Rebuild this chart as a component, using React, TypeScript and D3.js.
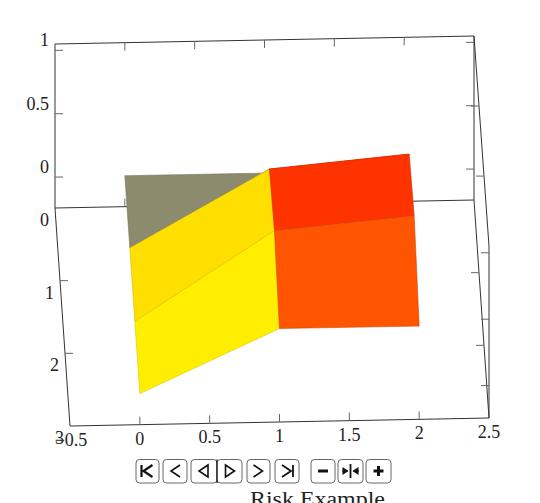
import React from "react";
import * as d3 from "d3";

// Data
const xGrid = [0, 1, 2];
const yGrid = [0, 1, 2, 3];
const zAt0 = [0, 0, -0.01, -0.01];
const zAt1 = [0, 0.592, 0.663, 0.46];
const zAt2 = [0, 0.687, 0.757, 0.458];
const zValues = [zAt0, zAt1, zAt2];
const patchColorsCol0 = ["#8d8b6d", "#ffdf00", "#ffee00"];
const patchColorsCol1 = ["#ff3300", "#ff3300", "#ff5500"];
const patchColors = [patchColorsCol0, patchColorsCol1];
const xTicks = [0, 0.5, 1, 1.5, 2];
const xLabels = [-0.5, 0, 0.5, 1, 1.5, 2, 2.5];
const yTicks = [1, 2];
const yLabels = [0, 1, 2, 3];
const zTicks = [0, 0.5, 1];
const title = "Risk Example";

const X0 = -0.5, X1 = 2.5, Y0 = 0, Y1 = 3, Z0 = -0.244, Z1 = 1.05;

const sx = d3.scaleLinear([X0, X1], [55, 474]);
const xTilt = d3.scaleLinear([X0, X1], [0, -8]);
const yShift = d3.scaleLinear([Y0, Y1], [0, 15]);
const yDrop = d3.scaleLinear([Y0, Y1], [208, 426]);
const zRise = d3.scaleLinear([Z0, Z1], [0, 164]);
const persp = d3.scaleLinear([Y0, Y1], [1, 1.048]);

type P = [number, number];
const project = (x: number, y: number, z: number): P => [
  sx(x) + yShift(y),
  yDrop(y) + xTilt(x) - zRise(z) * persp(y),
];
const line = d3.line<P>();

const FONT = "'Liberation Serif', serif";

// control bar
const buttonBoxes: [number, number][] = [
  [136, 159], [163, 187], [191, 217], [217, 242], [247, 270], [275, 299], [311, 335], [338, 363], [366, 391],
];
const buttonIcons = [
  "M-6,-6V6M5,-6L-4,0L5,6",
  "M5,-6L-4,0L5,6",
  "M4,-6L-5,0L4,6Z",
  "M-4,-6L5,0L-4,6Z",
  "M-5,-6L4,0L-5,6",
  "M-5,-6L4,0L-5,6M6,-6V6",
  "M-5,0H5",
  "M0,-7V7M-8,0H-3M3,0H8",
  "M-5,0H5M0,-5V5",
];
const iconWidths = [2.2, 1.6, 1.6, 1.6, 1.6, 1.8, 3, 1.8, 3];

export default function App() {
  const patches: { pts: P[]; color: string }[] = [];
  yGrid.slice(0, -1).forEach((_, j) => {
    xGrid.slice(0, -1).forEach((_, i) => {
      const pts: P[] = [
        project(xGrid[i], yGrid[j], zValues[i][j]),
        project(xGrid[i + 1], yGrid[j], zValues[i + 1][j]),
        project(xGrid[i + 1], yGrid[j + 1], zValues[i + 1][j + 1]),
        project(xGrid[i], yGrid[j + 1], zValues[i][j + 1]),
      ];
      patches.push({ pts, color: patchColors[i][j] });
    });
  });
  const edges: [P, P][] = [
    [project(X0, Y0, Z1), project(X1, Y0, Z1)],
    [project(X0, Y0, Z1), project(X0, Y0, Z0)],
    [project(X0, Y0, Z0), project(X1, Y0, Z0)],
    [project(X1, Y0, Z1), project(X1, Y0, Z0)],
    [project(X0, Y0, Z0), project(X0, Y1, Z0)],
    [project(X0, Y1, Z0), project(X1, Y1, Z0)],
    [project(X1, Y0, Z0), project(X1, Y1, Z0)],
    [project(X1, Y0, Z1), project(X1, Y1, Z1)],
    [project(X1, Y1, Z1), project(X1, Y1, Z0)],
  ];
  const ticksBehind: [P, P][] = [];
  const ticks: [P, P][] = [];
  const L = 8;
  const off = (p: P, dx: number, dy: number): [P, P] => [p, [p[0] + dx, p[1] + dy]];
  xTicks.forEach((v) => {
    ticks.push(off(project(v, Y0, Z1), 0, L));
    ticksBehind.push(off(project(v, Y0, Z0), 0, -L));
    ticks.push(off(project(v, Y1, Z0), 0, -L));
  });
  zTicks.forEach((v) => {
    ticks.push(off(project(X0, Y0, v), L, 0));
    ticks.push(off(project(X1, Y0, v), -L, 0));
    ticks.push(off(project(X1, Y1, v), -L, 0));
  });
  yTicks.forEach((v) => {
    ticks.push(off(project(X0, v, Z0), L, 0));
    ticks.push(off(project(X1, v, Z0), -L, 0));
    ticks.push(off(project(X1, v, Z1), -L, 0));
  });

  const textStyle = { fontFamily: FONT, fontSize: 18, fill: "#222" };
  return (
    <svg
      width={540}
      height={503}
      style={{ position: "absolute", left: 0, top: 0, background: "#fff" }}
    >
      <g fill="none" stroke="#333" strokeWidth={1}>
        {ticksBehind.map((t, i) => (
          <path key={i} d={line(t) as string} stroke="#777" />
        ))}
        {edges.map((e, i) => (
          <path key={i} d={line(e) as string} />
        ))}
        {ticks.map((t, i) => (
          <path key={i} d={line(t) as string} stroke="#666" />
        ))}
      </g>
      <g>
        {patches.map((p, i) => (
          <path
            key={i}
            d={(line(p.pts) as string) + "Z"}
            fill={p.color}
            stroke={d3.color(p.color)!.darker(0.5).formatHex()}
            strokeWidth={0.6}
            strokeLinejoin="round"
          />
        ))}
      </g>
      <g {...textStyle} textAnchor="middle">
        {xLabels.map((v) => {
          const [px, py] = project(v, Y1, Z0);
          return (
            <text key={v} x={v < 0 ? px + 1 : px} y={py + 20}>
              {v < 0 ? "\u2212" + Math.abs(v) : v}
            </text>
          );
        })}
        {yLabels.map((v) => {
          const [px, py] = project(X0, v, Z0);
          return (
            <text key={v} x={px - 10.5} y={py + 18}>
              {v}
            </text>
          );
        })}
      </g>
      <g {...textStyle} textAnchor="end">
        {zTicks.map((v) => {
          const [px, py] = project(X0, Y0, v);
          return (
            <text key={v} x={px - 6} y={py - 4}>
              {v}
            </text>
          );
        })}
      </g>
      <g>
        {buttonBoxes.map(([a, b], i) => {
          const cx = (a + b) / 2;
          return (
            <g key={i}>
              <rect x={a} y={459.5} width={b - a} height={23.5} rx={3.5} fill="#fff" stroke="#555" strokeWidth={0.9} />
              <path
                d={buttonIcons[i]}
                transform={`translate(${cx},471)`}
                fill="none"
                stroke="#111"
                strokeWidth={iconWidths[i]}
              />
              {i === 7 && (
                <path
                  d="M-8,-4L-2,0L-8,4ZM8,-4L2,0L8,4Z"
                  transform={`translate(${cx},471)`}
                  fill="#111"
                />
              )}
            </g>
          );
        })}
        <path d="M217,459.5V483" stroke="#111" strokeWidth={1.2} />
      </g>
      <text
        x={317.5}
        y={506}
        textAnchor="middle"
        fontFamily={FONT}
        fontSize={20}
        textLength={135}
        lengthAdjust="spacingAndGlyphs"
        fill="#222"
      >
        {title}
      </text>
    </svg>
  );
}
